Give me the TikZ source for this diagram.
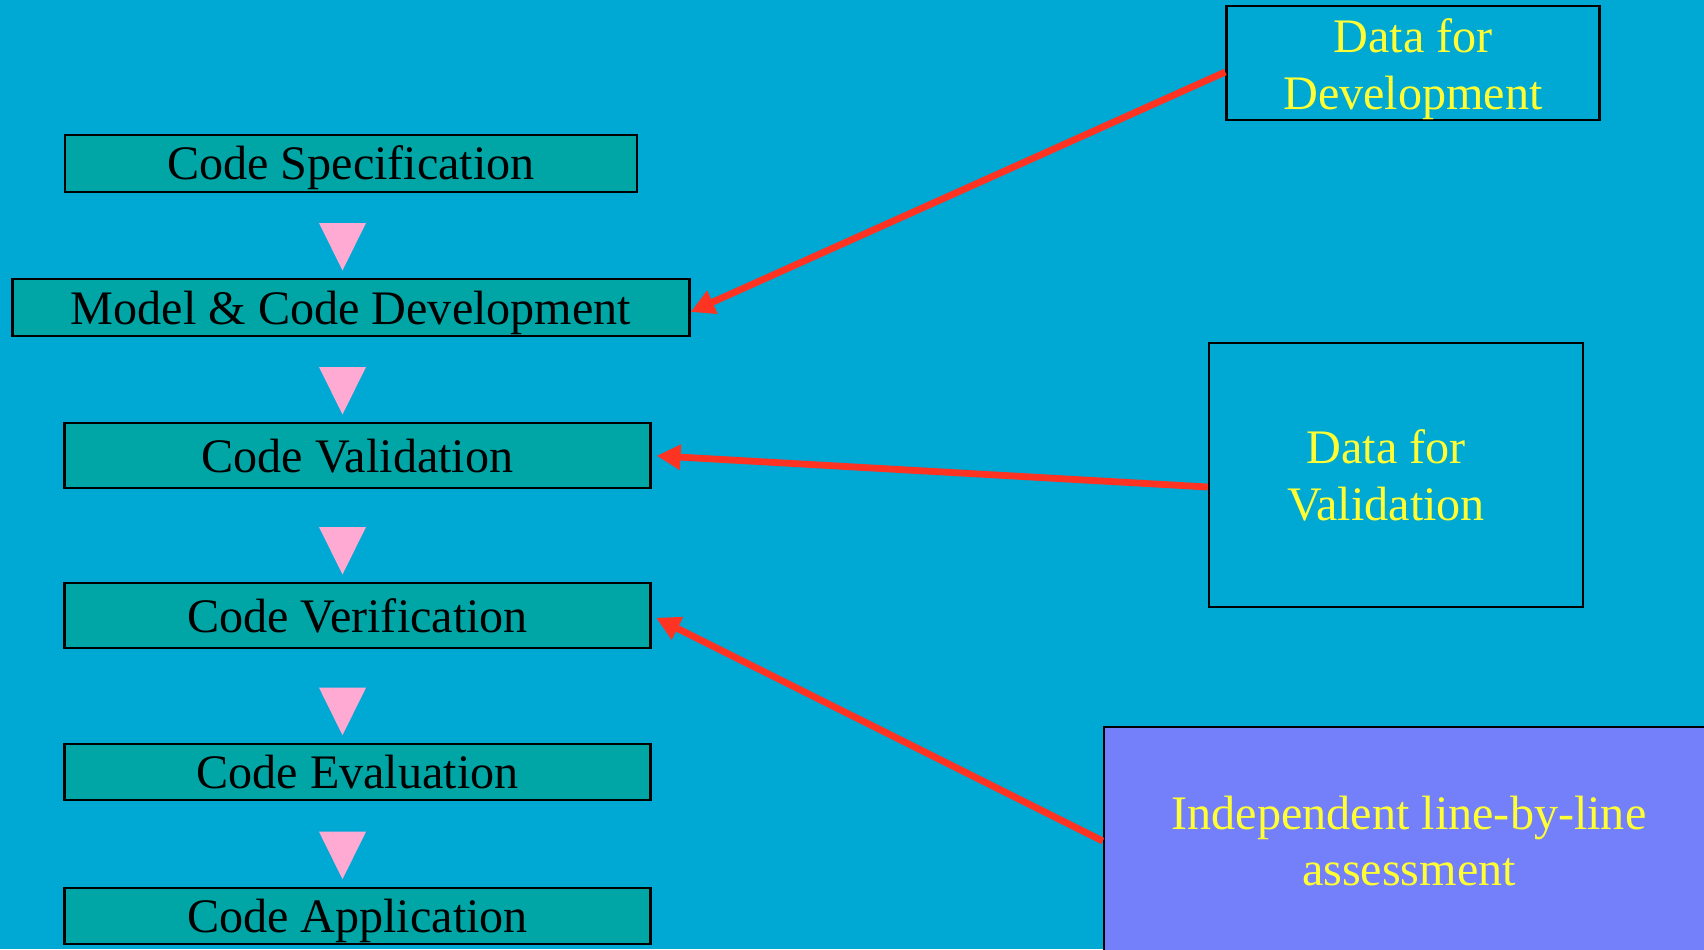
\documentclass[tikz,border=0pt]{standalone}
\usepackage{fontspec}
\setmainfont{Liberation Serif}
\usetikzlibrary{arrows.meta}

\definecolor{slideblue}{RGB}{0,168,212}
\definecolor{boxteal}{RGB}{0,165,165}
\definecolor{indepblue}{RGB}{116,127,250}
\definecolor{textyellow}{RGB}{255,255,51}
\definecolor{arrowred}{RGB}{255,51,34}
\definecolor{tripink}{RGB}{255,170,210}

\begin{document}
\begin{tikzpicture}[
  codebox/.style={draw=black, line width=0.6pt, fill=boxteal, inner sep=0pt,
    minimum width=5.86cm, text height=0.33cm, text depth=0pt,
    font=\fontsize{13.7}{16.2}\selectfont},
  databox/.style={draw=black, line width=0.7pt, inner sep=0pt, align=center,
    text=textyellow, font=\fontsize{13.7}{16.2}\selectfont},
  feed/.style={draw=arrowred, line width=0.068cm,
    -{Triangle[length=0.24cm,width=0.24cm]}},
  pinktri/.style={fill=tripink}
]

% Background
\clip (0,0) rectangle (17.04,9.49);
\fill[slideblue] (0,0) rectangle (17.04,9.49);

% Code steps
\node[codebox, minimum width=5.72cm, minimum height=0.57cm] (spec) at (3.51,7.855) {Code Specification};
\node[codebox, minimum width=6.77cm, minimum height=0.57cm] (model) at (3.51,6.415) {Model \& Code Development};
\node[codebox, minimum height=0.65cm] (valid) at (3.575,4.935) {Code Validation};
\node[codebox, minimum height=0.65cm] (verif) at (3.575,3.335) {Code Verification};
\node[codebox, minimum height=0.56cm] (eval) at (3.575,1.77) {Code Evaluation};
\node[codebox, minimum height=0.56cm] (appl) at (3.575,0.33) {Code Application};

% Down triangles
\foreach \t in {7.26,5.82,4.22,2.613,1.173}
  \fill[pinktri] (3.19,\t) -- (3.66,\t) -- (3.425,\t-0.475) -- cycle;

% Data boxes
\node[databox, minimum width=3.73cm, minimum height=1.12cm] (ddev) at (14.13,8.86) {\rule{0pt}{0.47cm}Data for\\Development};
\node[databox, minimum width=3.74cm, minimum height=2.64cm] (dval) at (13.96,4.74) {Data for\hspace*{0.2cm}\\Validation\hspace*{0.2cm}};
\node[databox, fill=indepblue, minimum width=6.10cm, minimum height=2.28cm] (indep) at (14.09,1.08) {Independent line-by-line\\assessment};

% Arrows
\draw[feed] ([yshift=-0.09cm]ddev.west) -- ([yshift=-0.045cm]model.east);
\draw[feed, shorten >=0.05cm] ([yshift=-0.12cm]dval.west) -- (valid.east);
\draw[feed, shorten >=0.05cm] (indep.west) -- (verif.east);

\end{tikzpicture}
\end{document}
